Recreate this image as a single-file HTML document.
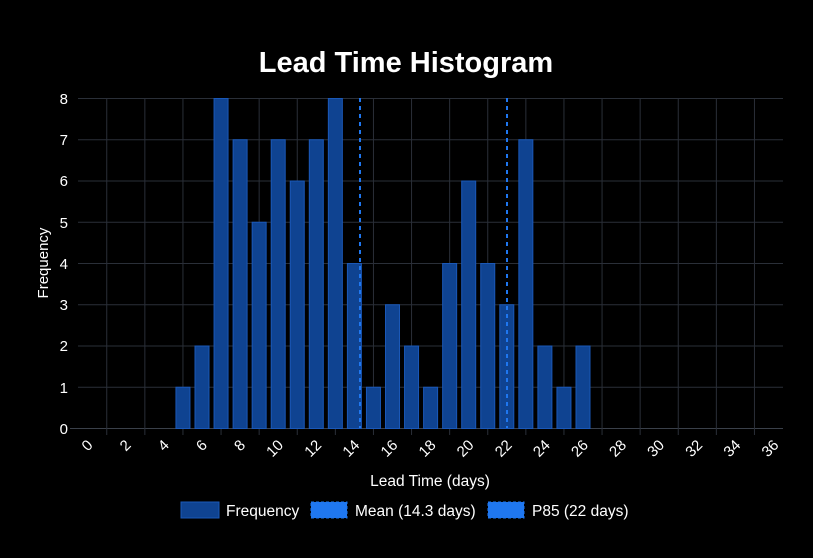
<!DOCTYPE html>
<html><head><meta charset="utf-8"><style>
html,body{margin:0;padding:0;background:#000;}
svg{display:block;font-family:"Liberation Sans",Arial,sans-serif;}
</style></head><body>
<svg width="813" height="558" viewBox="0 0 813 558" xmlns="http://www.w3.org/2000/svg">
<rect width="813" height="558" fill="#000"/>
<text x="406" y="72" fill="#fff" font-size="29" font-weight="bold" text-anchor="middle">Lead Time Histogram</text>
<g stroke="#2a2f38" stroke-width="1">
<line x1="78" y1="98.5" x2="783" y2="98.5"/>
<line x1="78" y1="139.75" x2="783" y2="139.75"/>
<line x1="78" y1="181" x2="783" y2="181"/>
<line x1="78" y1="222.25" x2="783" y2="222.25"/>
<line x1="78" y1="263.5" x2="783" y2="263.5"/>
<line x1="78" y1="304.75" x2="783" y2="304.75"/>
<line x1="78" y1="346" x2="783" y2="346"/>
<line x1="78" y1="387.25" x2="783" y2="387.25"/>
<line x1="70" y1="428.5" x2="783" y2="428.5" stroke="#3a404a"/>
</g>
<g id="vg" stroke="#2a2f38" stroke-width="1"></g>
<g id="bars"></g>
<line x1="360" y1="98" x2="360" y2="428" stroke="#1f77f0" stroke-width="2" stroke-dasharray="4,4"/>
<line x1="507" y1="98" x2="507" y2="428" stroke="#1f77f0" stroke-width="2" stroke-dasharray="4,4"/>
<g fill="#fff" font-size="15" text-anchor="end">
<text x="68" y="104">8</text><text x="68" y="145">7</text><text x="68" y="186">6</text>
<text x="68" y="228">5</text><text x="68" y="269">4</text><text x="68" y="310">3</text>
<text x="68" y="351">2</text><text x="68" y="393">1</text><text x="68" y="434">0</text>
</g>
<g id="xl" fill="#fff" font-size="15" text-anchor="end"></g>
<text x="48" y="263" fill="#fff" font-size="15" text-anchor="middle" transform="rotate(-90 48 263)">Frequency</text>
<text x="430" y="486" fill="#fff" font-size="15.5" text-anchor="middle">Lead Time (days)</text>
<rect x="181" y="502" width="38" height="16" fill="#0f4391" stroke="#1a58b8"/>
<text x="226" y="516" fill="#fff" font-size="15.5">Frequency</text>
<rect x="311" y="502" width="36" height="16" fill="#1f77f0" stroke="#1f77f0" stroke-dasharray="3,2"/>
<text x="355" y="516" fill="#fff" font-size="15.5">Mean (14.3 days)</text>
<rect x="488" y="502" width="36" height="16" fill="#1f77f0" stroke="#1f77f0" stroke-dasharray="3,2"/>
<text x="532" y="516" fill="#fff" font-size="15.5">P85 (22 days)</text>
</svg>
<script>
var ns="http://www.w3.org/2000/svg",w=19.05,c0=87.7;
var d={5:1,6:2,7:8,8:7,9:5,10:7,11:6,12:7,13:8,14:4,15:1,16:3,17:2,18:1,19:4,20:6,21:4,22:3,23:7,24:2,25:1,26:2};
var vg=document.getElementById("vg");
for(var i=1;i<37;i+=2){var x=c0+w*i;var l=document.createElementNS(ns,"line");l.setAttribute("x1",x);l.setAttribute("x2",x);l.setAttribute("y1",98);l.setAttribute("y2",435);vg.appendChild(l);}
var b=document.getElementById("bars");
for(var k in d){var x=c0+w*k-7,h=d[k]*41.25;var r=document.createElementNS(ns,"rect");r.setAttribute("x",x);r.setAttribute("y",428.5-h);r.setAttribute("width",14);r.setAttribute("height",h);r.setAttribute("fill","#0f4391");r.setAttribute("stroke","#1a58b8");r.setAttribute("stroke-width","1");b.appendChild(r);}
var xl=document.getElementById("xl");
for(var i=0;i<=36;i+=2){var x=c0+w*i+6,y=446;var t=document.createElementNS(ns,"text");t.setAttribute("x",x);t.setAttribute("y",y);t.setAttribute("transform","rotate(-45 "+x+" "+y+")");t.textContent=i;xl.appendChild(t);}
</script>
</body></html>
